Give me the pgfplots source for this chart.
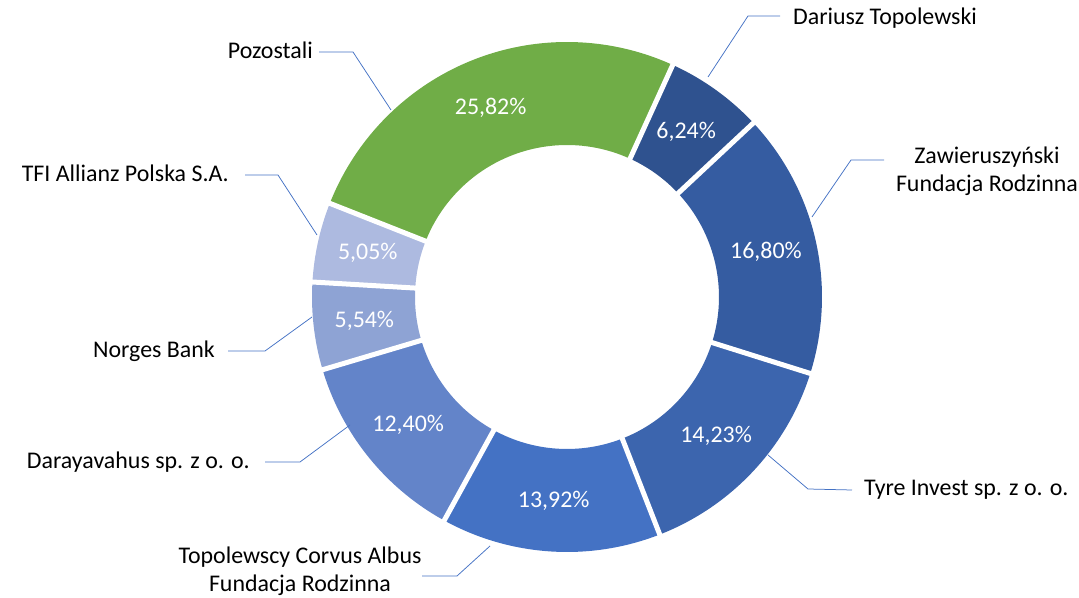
\documentclass[border=0pt]{standalone}
\usepackage{fontspec}
\setmainfont{Carlito}
\usepackage{pgfplots}
\usepackage{pgfplotstable}
\pgfplotsset{compat=1.18}

\definecolor{slice0}{HTML}{2F528F}
\definecolor{slice1}{HTML}{355CA1}
\definecolor{slice2}{HTML}{3C65AE}
\definecolor{slice3}{HTML}{4472C4}
\definecolor{slice4}{HTML}{6384C9}
\definecolor{slice5}{HTML}{8EA3D4}
\definecolor{slice6}{HTML}{ADBAE0}
\definecolor{slice7}{HTML}{70AD47}
\definecolor{leader}{HTML}{4472C4}

% shares in %, clockwise from Dariusz Topolewski
\pgfplotstableread{
share
6.24
16.80
14.23
13.92
12.40
5.54
5.05
25.82
}\shares
\pgfplotstablecreatecol[create col/expr accum={\pgfmathaccuma + \thisrow{share}}{0}]{cum}\shares

\def\startang{65.5}
\def\Ro{255bp}
\def\Ri{152bp}

\begin{document}
\begin{tikzpicture}[font=\fontsize{24}{28.5}\selectfont]
\useasboundingbox (0,0) rectangle (1079bp,598bp);
\begin{axis}[
    hide axis, scale only axis, clip=false,
    width=1079bp, height=598bp,
    xmin=0, xmax=1079, ymin=0, ymax=598,
]
\coordinate (C) at (axis cs:567,301);

% slices
\pgfplotsinvokeforeach{0,...,7}{
  \pgfplotstablegetelem{#1}{share}\of\shares \let\s=\pgfplotsretval
  \pgfplotstablegetelem{#1}{cum}\of\shares \let\c=\pgfplotsretval
  \pgfmathsetmacro\aE{\startang-3.6*\c}
  \pgfmathsetmacro\aS{\aE+3.6*\s}
  \edef\tmp{\noexpand\fill[slice#1] ([shift={(\aS:\Ro)}]C) arc[start angle=\aS, end angle=\aE, radius=\Ro]
     -- ([shift={(\aE:\Ri)}]C) arc[start angle=\aE, end angle=\aS, radius=\Ri] -- cycle;}
  \tmp
}
% white gaps and value labels
\pgfplotsinvokeforeach{0,...,7}{
  \pgfplotstablegetelem{#1}{share}\of\shares \let\s=\pgfplotsretval
  \pgfplotstablegetelem{#1}{cum}\of\shares \let\c=\pgfplotsretval
  \pgfmathsetmacro\aE{\startang-3.6*\c}
  \pgfmathsetmacro\aM{\aE+1.8*\s}
  \edef\tmp{\noexpand\draw[white, line width=5bp] ([shift={(\aE:145bp)}]C) -- ([shift={(\aE:262bp)}]C);
     \noexpand\node[white] at ([shift={(\aM:204bp)}]C) {\noexpand\pgfmathprintnumber[fixed, fixed zerofill, precision=2, use comma, assume math mode=true]{\s}\noexpand\%};}
  \tmp
}

% leader lines
\draw[leader, line width=0.75bp] (axis cs:708,521) -- (axis cs:748,582) -- (axis cs:780,582);
\draw[leader, line width=0.75bp] (axis cs:812,381) -- (axis cs:851,438) -- (axis cs:884,438);
\draw[leader, line width=0.75bp] (axis cs:768,143) -- (axis cs:808,109) -- (axis cs:852,108);
\draw[leader, line width=0.75bp] (axis cs:490,52) -- (axis cs:457,22) -- (axis cs:422,22);
\draw[leader, line width=0.75bp] (axis cs:350,173) -- (axis cs:300,136) -- (axis cs:265,136);
\draw[leader, line width=0.75bp] (axis cs:312,281) -- (axis cs:265,247) -- (axis cs:228,247);
\draw[leader, line width=0.75bp] (axis cs:317,363) -- (axis cs:278,423) -- (axis cs:245,423);
\draw[leader, line width=0.75bp] (axis cs:391,488) -- (axis cs:353,546) -- (axis cs:319,546);

% category labels
\node[anchor=west, inner sep=0] at (axis cs:793,580) {Dariusz Topolewski};
\node[align=center, inner sep=0] at (axis cs:987,427) {Zawieruszyński\\Fundacja Rodzinna};
\node[anchor=west, inner sep=0] at (axis cs:864,108) {Tyre Invest sp. z o. o.};
\node[align=center, inner sep=0] at (axis cs:300,27) {Topolewscy Corvus Albus\\Fundacja Rodzinna};
\node[anchor=east, inner sep=0] at (axis cs:250,136) {Darayavahus sp. z o. o.};
\node[anchor=east, inner sep=0] at (axis cs:215,247) {Norges Bank};
\node[anchor=east, inner sep=0] at (axis cs:229,425) {TFI Allianz Polska S.A.};
\node[anchor=east, inner sep=0] at (axis cs:313,548) {Pozostali};
\end{axis}
\end{tikzpicture}
\end{document}
